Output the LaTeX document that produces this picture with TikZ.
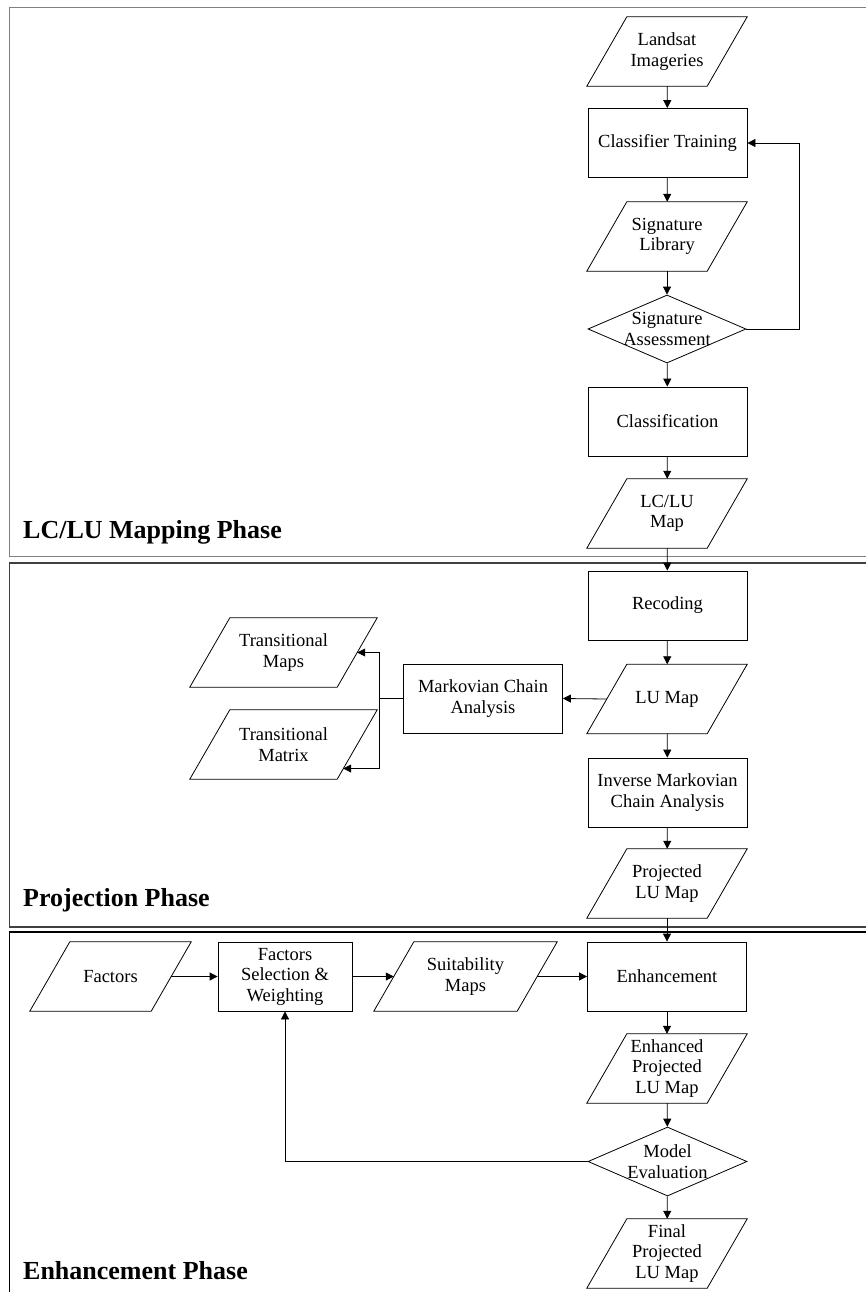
\documentclass[tikz,border=0pt]{standalone}
\usepackage{fontspec}
\setmainfont{Liberation Serif}
\usetikzlibrary{shapes.geometric,arrows.meta,calc}
\begin{document}
\begin{tikzpicture}[x=1pt,y=-1pt,
  every node/.style={font=\fontsize{18.5}{20.5}\selectfont, align=center, inner sep=0pt},
  boxnode/.style={draw, rectangle, line width=0.8pt, minimum width=159pt, minimum height=69pt},
  paranode/.style={rectangle, minimum height=69pt, minimum width=#1},
  paranode/.default=160pt,
  decnode/.style={draw, diamond, line width=0.8pt, minimum width=158pt, minimum height=68pt, inner sep=0pt},
  arr/.style={line width=0.8pt, -{Triangle[length=8pt,width=8pt]}},
  ln/.style={line width=0.8pt},
  phase/.style={anchor=west, font=\fontsize{26}{30}\selectfont\bfseries},
]
\useasboundingbox (0,0) rectangle (866,1292);
% panels
\draw[line width=1.3pt, black!50] (9.5,7.5) rectangle (880,556.5);
\draw[line width=1.3pt, black!75] (9.5,563) rectangle (880,927);
\draw[line width=1.3pt, black] (9.5,932) rectangle (880,1310);
\node[phase] (ph1) at (23,532) {LC/LU Mapping Phase};
\node[phase] (ph2) at (23,900) {Projection Phase};
\node[phase] (ph3) at (23,1271) {Enhancement Phase};

% mapping phase
\node[paranode] (landsat) at (667,51.5) {Landsat\\Imageries};
\node[boxnode] (train) at (667.5,143) {Classifier Training};
\node[paranode] (siglib) at (667,236.5) {Signature\\Library};
\node[decnode, label={[align=center]center:Signature\\Assessment}] (assess) at (667,329) {};
\node[boxnode] (classif) at (667.5,421.5) {Classification};
\node[paranode] (lclu) at (667,513.5) {LC/LU\\Map};

% projection phase
\node[boxnode] (recod) at (667.5,605.5) {Recoding};
\node[paranode] (lumap) at (667,699) {LU Map};
\node[boxnode] (mca) at (483,698.5) {Markovian Chain\\Analysis};
\node[paranode=187pt] (tmaps) at (283.5,652.5) {Transitional\\Maps};
\node[paranode=187pt] (tmatrix) at (283.5,744.5) {Transitional\\Matrix};
\node[boxnode] (imca) at (667.5,792.5) {Inverse Markovian\\Chain Analysis};
\node[paranode] (proj) at (667,883.5) {Projected\\LU Map};
\coordinate (br) at (379,698.5);
\coordinate (tmmid) at ($(tmatrix.east)+(-20,0)$);
\coordinate (tmin) at ($(tmmid)+(-14,24)$);

% enhancement phase
\node[paranode=161pt] (factors) at (110.5,976.5) {Factors};
\node[boxnode, minimum width=134pt] (fsw) at (285,976.5) {Factors\\Selection \&\\Weighting};
\node[paranode=183pt] (suit) at (465.5,976.5) {Suitability\\Maps};
\node[boxnode] (enh) at (667,976.5) {Enhancement};
\node[paranode] (enhp) at (667,1068.5) {Enhanced\\Projected\\LU Map};
\node[decnode, minimum width=159pt, minimum height=69pt, label={[align=center]center:Model\\Evaluation}] (model) at (667.5,1161.5) {};
\node[paranode] (final) at (667,1253.5) {Final\\Projected\\LU Map};

% parallelogram outlines
\foreach \n in {landsat,siglib,lclu,lumap,proj,tmaps,tmatrix,factors,suit,enhp,final}
  \draw[ln] ([xshift=40pt]\n.north west) -- (\n.north east) -- ([xshift=-40pt]\n.south east) -- (\n.south west) -- cycle;

% connectors
\draw[arr] (landsat) -- (train);
\draw[arr] (train) -- (siglib);
\draw[arr] (siglib) -- (assess);
\draw[arr] (assess) -- (classif);
\draw[arr] (assess.east) -- ++(53,0) |- (train.east);
\draw[arr] (classif) -- (lclu);
\draw[arr] (lclu) -- (recod);
\draw[arr] (recod) -- (lumap);
\draw[arr] ([xshift=20pt]lumap.west) -- (mca.east);
\draw[ln] (mca.west) -- (br);
\draw[arr] (br) |- ([xshift=-20pt]tmaps.east);
\draw[arr] (br) |- (tmin);
\draw[arr] (lumap) -- (imca);
\draw[arr] (imca) -- (proj);
\draw[arr] (proj) -- (enh);
\draw[arr] ([xshift=-20pt]factors.east) -- (fsw.west);
\draw[arr] (fsw.east) -- ([xshift=20pt]suit.west);
\draw[arr] ([xshift=-20pt]suit.east) -- (enh.west);
\draw[arr] (enh) -- (enhp);
\draw[arr] (enhp) -- (model);
\draw[arr] (model) -- (final);
\draw[arr] (model.west) -| (fsw.south);
\end{tikzpicture}
\end{document}
